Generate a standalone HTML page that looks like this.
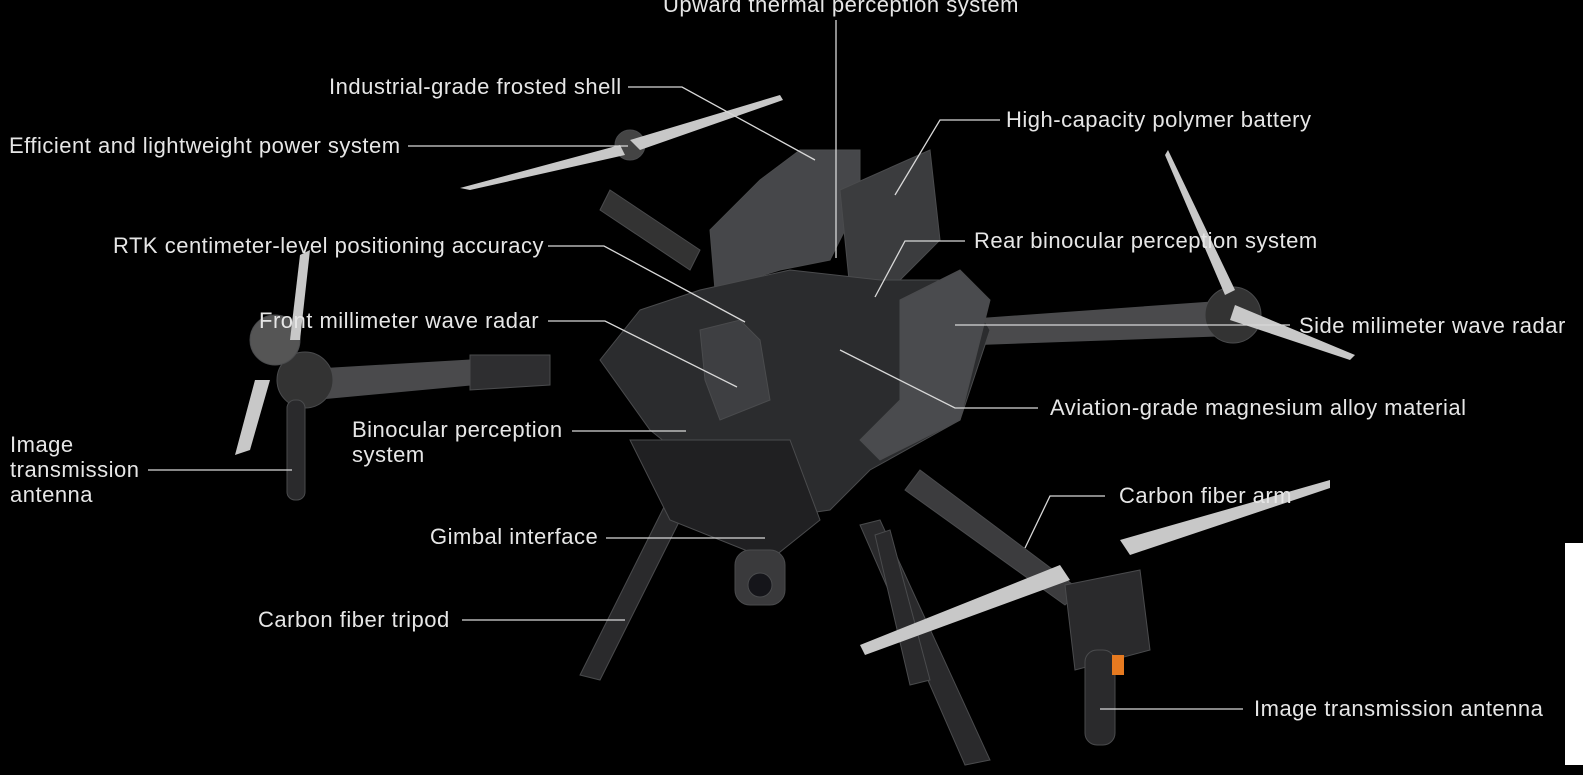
<!DOCTYPE html>
<html><head><meta charset="utf-8"><style>
html,body{margin:0;padding:0;background:#000;}
svg{display:block}
text{font-family:"Liberation Sans",sans-serif;font-size:22px;letter-spacing:0.5px;fill:#e6e6e6;}
</style></head><body>
<svg width="1583" height="775" viewBox="0 0 1583 775" xmlns="http://www.w3.org/2000/svg">
<rect width="1583" height="775" fill="#000"/>
<rect x="1565" y="543" width="18" height="222" fill="#fff"/>
<g fill="#3a3b3d" stroke="#4a4b4d">
<path d="M690 500 L600 680 L580 675 L670 495Z" fill="#2a2a2c"/>
<path d="M880 520 L990 760 L965 765 L860 525Z" fill="#2a2a2c"/>
<path d="M890 530 L930 680 L910 685 L875 535Z" fill="#2a2a2c"/>
<path d="M300 370 L470 360 L470 385 L310 400Z" fill="#4a4a4c"/>
<path d="M470 355 L550 355 L550 385 L470 390Z" fill="#2e2e30"/>
<path d="M960 320 L1240 300 L1245 335 L965 345Z" fill="#4a4a4c"/>
<path d="M920 470 L1080 590 L1065 605 L905 490Z" fill="#3c3c3e"/>
<path d="M610 190 L700 250 L690 270 L600 210Z" fill="#333"/>
<circle cx="305" cy="380" r="28" fill="#333"/>
<circle cx="275" cy="340" r="25" fill="#555"/>
<circle cx="1233" cy="315" r="28" fill="#333"/>
<circle cx="630" cy="145" r="15" fill="#444"/>
<path d="M1065 585 L1140 570 L1150 650 L1075 670Z" fill="#2a2a2c"/>
<rect x="1085" y="650" width="30" height="95" rx="12" fill="#2a2a2c"/>
<rect x="1112" y="655" width="12" height="20" fill="#e67a20" stroke="none"/>
<rect x="287" y="400" width="18" height="100" rx="8" fill="#2a2a2c"/>
<path d="M710 230 L760 180 L800 150 L860 150 L860 200 L830 260 L780 270 L715 290Z" fill="#46474a"/>
<path d="M840 190 L930 150 L940 240 L880 300 L850 290Z" fill="#3b3c3e"/>
<path d="M640 310 L700 290 L790 270 L880 280 L960 280 L990 330 L960 420 L870 470 L830 510 L760 520 L700 470 L650 430 L600 360Z" fill="#2b2c2e"/>
<path d="M700 330 L740 320 L760 340 L770 400 L720 420 L705 380Z" fill="#3e3f42"/>
<path d="M900 300 L960 270 L990 300 L960 420 L880 460 L860 440 L900 400Z" fill="#4a4b4e"/>
<path d="M630 440 L790 440 L820 520 L770 560 L670 520Z" fill="#202022"/>
<rect x="735" y="550" width="50" height="55" rx="15" fill="#3a3a3c"/>
<circle cx="760" cy="585" r="12" fill="#15151a"/>
</g>
<g fill="#c8c8c8">
<path d="M460 188 L620 145 L625 155 L470 190Z"/>
<path d="M630 140 L780 95 L783 100 L640 150Z"/>
<path d="M1168 150 L1235 290 L1225 295 L1165 155Z"/>
<path d="M1235 305 L1355 355 L1350 360 L1230 320Z"/>
<path d="M300 255 L310 250 L300 340 L290 340Z"/>
<path d="M270 380 L250 450 L235 455 L255 380Z"/>
<path d="M860 645 L1060 565 L1070 580 L865 655Z"/>
<path d="M1120 540 L1330 480 L1330 488 L1130 555Z"/>
</g>
<g stroke="#d8d8d8" stroke-width="1.3" fill="none">
<line x1="836" y1="20" x2="836" y2="258"/>
<polyline points="628,87 682,87 815,160"/>
<polyline points="408,146 628,146"/>
<polyline points="1000,120 940,120 895,195"/>
<polyline points="548,246 604,246 745,322"/>
<polyline points="965,241 905,241 875,297"/>
<polyline points="1290,325 955,325"/>
<polyline points="548,321 605,321 737,387"/>
<polyline points="1038,408 955,408 840,350"/>
<polyline points="572,431 686,431"/>
<polyline points="148,470 292,470"/>
<polyline points="606,538 765,538"/>
<polyline points="1105,496 1050,496 1025,548"/>
<polyline points="462,620 625,620"/>
<polyline points="1243,709 1100,709"/>
</g>
<text x="663" y="12">Upward thermal perception system</text>
<text x="329" y="94">Industrial-grade frosted shell</text>
<text x="9" y="153">Efficient and lightweight power system</text>
<text x="1006" y="127">High-capacity polymer battery</text>
<text x="113" y="253">RTK centimeter-level positioning accuracy</text>
<text x="974" y="248">Rear binocular perception system</text>
<text x="259" y="328">Front millimeter wave radar</text>
<text x="1299" y="333">Side milimeter wave radar</text>
<text x="1050" y="415">Aviation-grade magnesium alloy material</text>
<text x="352" y="437">Binocular perception</text>
<text x="352" y="462">system</text>
<text x="10" y="452">Image</text>
<text x="10" y="477">transmission</text>
<text x="10" y="502">antenna</text>
<text x="1119" y="503">Carbon fiber arm</text>
<text x="430" y="544">Gimbal interface</text>
<text x="258" y="627">Carbon fiber tripod</text>
<text x="1254" y="716">Image transmission antenna</text>
</svg>
</body></html>
